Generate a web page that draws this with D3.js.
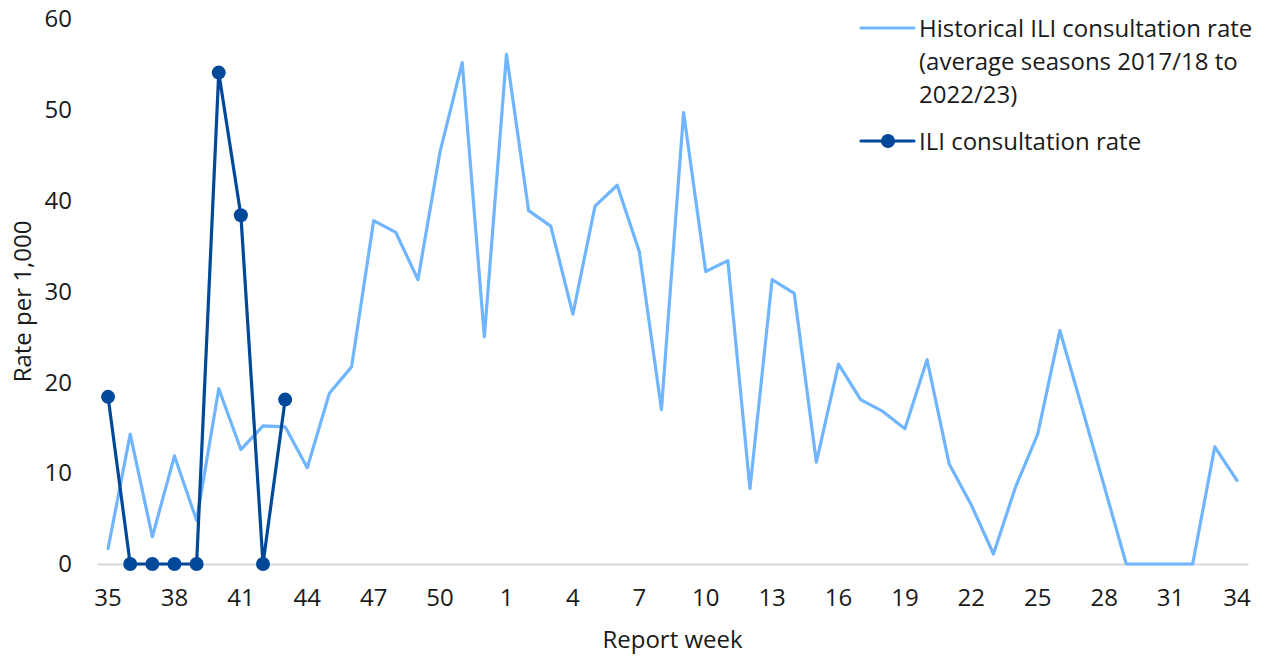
<!DOCTYPE html>
<html lang="en">
<head>
<meta charset="UTF-8">
<script src="https://d3js.org/d3.v7.min.js"></script>
<title>ILI consultation rate</title>
<style>
  body { margin: 0; background: #fff; font-family: "Open Sans", "Noto Sans", sans-serif; }
  .tick text { fill: #1a1a1a; }
</style>
</head>
<body>
<div id="chart"></div>
<script>
// Report weeks, season week 35 through week 34
const weeks = [35,36,37,38,39,40,41,42,43,44,45,46,47,48,49,50,51,52,
  1,2,3,4,5,6,7,8,9,10,11,12,13,14,15,16,17,18,19,20,21,22,23,24,25,26,27,28,29,30,31,32,33,34];

// Historical ILI consultation rate (average seasons 2017/18 to 2022/23)
const historical = [1.7,14.3,3.0,11.9,4.8,19.3,12.6,15.2,15.1,10.6,18.8,21.7,37.8,36.5,31.3,45.4,55.2,25.0,
  56.1,38.9,37.2,27.5,39.4,41.7,34.4,17.0,49.7,32.2,33.4,8.3,31.3,29.8,11.2,22.0,18.1,16.8,14.9,22.5,
  11.0,6.5,1.1,8.5,14.3,25.7,17.2,8.6,0,0,0,0,12.9,9.2];

// ILI consultation rate, current season
const current = [18.4,0,0,0,0,54.1,38.4,0,18.1];

const yTicks = [0,10,20,30,40,50,60];
const xTickWeeks = [35,38,41,44,47,50,1,4,7,10,13,16,19,22,25,28,31,34];

const width = 1266, height = 656;
const margin = {top: 19, right: 18, bottom: 92, left: 97};
const innerW = width - margin.left - margin.right;
const innerH = height - margin.top - margin.bottom;
const fontSize = "24px";

const svg = d3.select("#chart").append("svg")
  .attr("width", width)
  .attr("height", height);

const g = svg.append("g")
  .attr("transform", `translate(${margin.left},${margin.top})`);

const x = d3.scaleBand()
  .domain(weeks.map((w, i) => i))
  .range([0, innerW]);

const y = d3.scaleLinear()
  .domain([0, 60])
  .range([innerH, 0]);

const cx = i => x(i) + x.bandwidth() / 2;

// y axis (labels only)
const yAxis = g.append("g")
  .call(d3.axisLeft(y).tickValues(yTicks).tickSize(0).tickPadding(25));
yAxis.select(".domain").remove();
yAxis.selectAll("text").style("font-size", fontSize).style("font-family", "Open Sans");

// x axis
const xAxis = g.append("g")
  .attr("transform", `translate(0,${innerH})`)
  .call(d3.axisBottom(x)
    .tickValues(weeks.map((w, i) => i).filter(i => xTickWeeks.includes(weeks[i])))
    .tickFormat(i => weeks[i])
    .tickSize(0)
    .tickPadding(25));
xAxis.select(".domain").attr("stroke", "#d9d9d9").attr("stroke-width", 2);
xAxis.selectAll("text").style("font-size", fontSize).style("font-family", "Open Sans");

// axis titles
svg.append("text")
  .attr("x", margin.left + innerW / 2)
  .attr("y", 648)
  .attr("text-anchor", "middle")
  .style("font-size", fontSize)
  .attr("fill", "#1a1a1a")
  .text("Report week");

svg.append("text")
  .attr("transform", `translate(31,${margin.top + innerH / 2 + 10}) rotate(-90)`)
  .attr("text-anchor", "middle")
  .style("font-size", fontSize)
  .attr("fill", "#1a1a1a")
  .text("Rate per 1,000");

const histColor = "#70b5ff";
const curColor = "#00499a";

const line = d3.line()
  .x((d, i) => cx(i))
  .y(d => y(d));

g.append("path")
  .datum(historical)
  .attr("fill", "none")
  .attr("stroke", histColor)
  .attr("stroke-width", 3.2)
  .attr("stroke-linejoin", "round")
  .attr("stroke-linecap", "round")
  .attr("d", line);

g.append("path")
  .datum(current)
  .attr("fill", "none")
  .attr("stroke", curColor)
  .attr("stroke-width", 3.2)
  .attr("stroke-linejoin", "round")
  .attr("d", line);

g.selectAll(".dot")
  .data(current)
  .enter()
  .append("circle")
  .attr("class", "dot")
  .attr("cx", (d, i) => cx(i))
  .attr("cy", d => y(d))
  .attr("r", 7)
  .attr("fill", curColor);

// legend
const legend = svg.append("g").attr("transform", "translate(861,0)");

legend.append("line")
  .attr("x1", 0).attr("x2", 53)
  .attr("y1", 28).attr("y2", 28)
  .attr("stroke", histColor).attr("stroke-width", 3.2).attr("stroke-linecap", "round");

const histLabel = ["Historical ILI consultation rate", "(average seasons 2017/18 to", "2022/23)"];
legend.append("text")
  .attr("x", 58)
  .attr("y", 37)
  .style("font-size", fontSize)
  .attr("fill", "#1a1a1a")
  .selectAll("tspan")
  .data(histLabel)
  .enter()
  .append("tspan")
  .attr("x", 58)
  .attr("dy", (d, i) => i === 0 ? 0 : 33)
  .text(d => d);

legend.append("line")
  .attr("x1", 0).attr("x2", 53)
  .attr("y1", 141).attr("y2", 141)
  .attr("stroke", curColor).attr("stroke-width", 3.2).attr("stroke-linecap", "round");
legend.append("circle")
  .attr("cx", 27).attr("cy", 141).attr("r", 7).attr("fill", curColor);
legend.append("text")
  .attr("x", 58)
  .attr("y", 150)
  .style("font-size", fontSize)
  .attr("fill", "#1a1a1a")
  .text("ILI consultation rate");
</script>
</body>
</html>
